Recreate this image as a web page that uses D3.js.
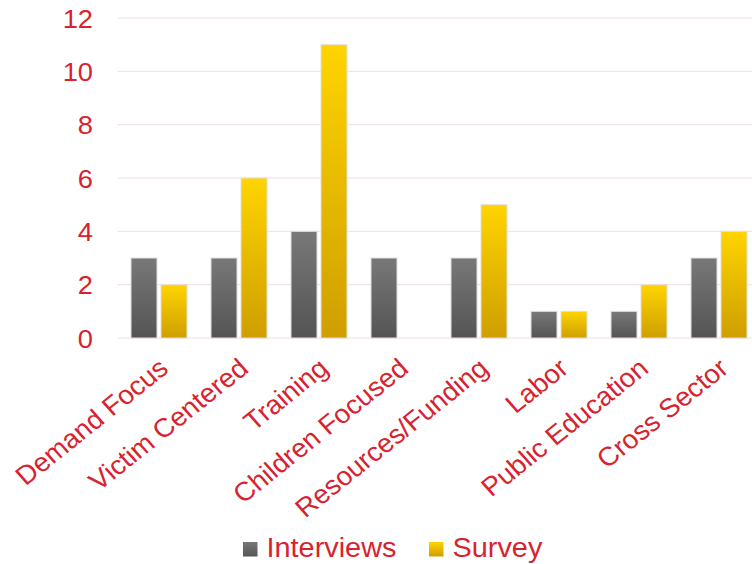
<!DOCTYPE html>
<html>
<head>
<meta charset="utf-8">
<script src="https://cdn.jsdelivr.net/npm/d3@7"></script>
<style>
  body { margin: 0; background: #fff; }
  svg { font-family: "Liberation Sans", Arial, sans-serif; }
</style>
</head>
<body>
<svg id="chart" width="752" height="564"></svg>
<script>
const categories = ['Demand Focus', 'Victim Centered', 'Training', 'Children Focused',
  'Resources/Funding', 'Labor', 'Public Education', 'Cross Sector'];
const interviews = [3, 3, 4, 3, 3, 1, 1, 3];
const survey = [2, 6, 11, 0, 5, 1, 2, 4];
const yTicks = [0, 2, 4, 6, 8, 10, 12];

const red = '#d8232f';
const stretch = 1.05; // the reference text looks slightly wide
const svg = d3.select('#chart');

const x = d3.scaleBand().domain(categories).range([119, 759]);
const y = d3.scaleLinear().domain([0, 12]).range([338, 18]);

const defs = svg.append('defs');
function grad(id, top, bottom) {
  const g = defs.append('linearGradient').attr('id', id)
    .attr('x1', 0).attr('y1', 0).attr('x2', 0).attr('y2', 1);
  g.append('stop').attr('offset', 0).attr('stop-color', top);
  g.append('stop').attr('offset', 1).attr('stop-color', bottom);
}
grad('gGray', '#787878', '#545454');
grad('gGold', '#ffd400', '#d09e00');

// gridlines
svg.append('g').selectAll('line').data(yTicks).join('line')
  .attr('x1', 118).attr('x2', 752)
  .attr('y1', d => y(d)).attr('y2', d => y(d))
  .attr('stroke', '#f4dde0').attr('stroke-width', 1);

// y labels
svg.append('g').selectAll('text').data(yTicks).join('text')
  .attr('transform', d => `translate(93,${y(d) + 9.5}) scale(${stretch},1)`)
  .attr('text-anchor', 'end')
  .attr('fill', red).attr('font-size', 26)
  .text(d => d);

const series = [
  { name: 'Interviews', values: interviews, fill: 'url(#gGray)', off: 12 },
  { name: 'Survey', values: survey, fill: 'url(#gGold)', off: 42 }
];

series.forEach(s => {
  svg.append('g').selectAll('rect')
    .data(categories.map((c, i) => ({ c, v: s.values[i] })).filter(d => d.v > 0))
    .join('rect')
    .attr('x', d => x(d.c) + s.off)
    .attr('y', d => y(d.v))
    .attr('width', 26)
    .attr('height', d => y(0) - y(d.v))
    .attr('fill', s.fill)
    .attr('stroke', '#e4dede').attr('stroke-width', 1);
});

// category labels
svg.append('g').selectAll('text').data(categories).join('text')
  .attr('transform', d => `translate(${x(d) + x.bandwidth() / 2 + 11},371) scale(${stretch},1) rotate(-40)`)
  .attr('text-anchor', 'end')
  .attr('fill', red).attr('font-size', 26.5)
  .text(d => d);

// legend
const legend = svg.append('g');
const items = [
  { name: 'Interviews', fill: 'url(#gGray)', x: 243 },
  { name: 'Survey', fill: 'url(#gGold)', x: 429 }
];
items.forEach(it => {
  legend.append('rect').attr('x', it.x).attr('y', 542).attr('width', 14.5).attr('height', 14.5)
    .attr('fill', it.fill);
  legend.append('text')
    .attr('transform', `translate(${it.x + 23.5},557) scale(${stretch},1)`)
    .attr('fill', red).attr('font-size', 27.5).text(it.name);
});
</script>
</body>
</html>
